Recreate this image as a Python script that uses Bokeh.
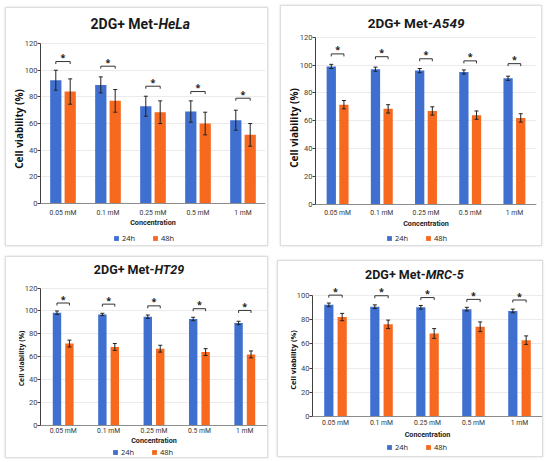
from bokeh.plotting import figure
from bokeh.models import (ColumnDataSource, Whisker, TeeHead, FixedTicker, Label,
                          Legend, LegendItem, Range1d)
from bokeh.layouts import row, column
from bokeh.embed import file_html
from bokeh.resources import INLINE
from bokeh.core.properties import value

# ---------------- data ----------------
categories = ["0.05 mM", "0.1 mM", "0.25 mM", "0.5 mM", "1 mM"]
series_names = ["24h", "48h"]

hela_24 = [92.5, 89, 73, 69, 62.5]
hela_24_err = [7.5, 6, 7.5, 8, 7.5]
hela_48 = [84, 77, 68.5, 60, 51.5]
hela_48_err = [9.5, 8.5, 8.5, 8.5, 8.5]
hela_sig = [106.5, 103, 88, 84, 79]

a549_24 = [99, 97, 96, 95, 90.5]
a549_24_err = [1.5, 1.5, 1.5, 1.5, 1.5]
a549_48 = [71.5, 68.5, 67, 64, 62]
a549_48_err = [3, 3, 3, 3, 3]
a549_sig = [108, 106, 104.5, 103, 101]

ht29_24 = [98.5, 97, 95, 93, 89.5]
ht29_24_err = [1.5, 1, 1.5, 1.5, 1.5]
ht29_48 = [71.5, 68.5, 67, 64, 62]
ht29_48_err = [3, 3, 3, 3, 3]
ht29_sig = [107, 106, 104.5, 102, 100.5]

mrc5_24 = [92, 90.5, 90, 88.5, 87]
mrc5_24_err = [1.5, 1.5, 1.5, 1.5, 1.5]
mrc5_48 = [82, 76, 68.5, 74, 63]
mrc5_48_err = [3, 3.5, 4, 4, 3.5]
mrc5_sig = [100, 99.5, 98, 96.5, 96]

BLUE = "#3f6fcf"
ORANGE = "#f7691f"
FONT = "Open Sans"
NARROW = "Roboto"


def panel(cell, v24, e24, v48, e48, sig, w, h, mb, y_start, y_end, y_max, title_y, split,
          bw, off, title_size, ylab_size, px_per_unit, leg_loc, tl_standoff, xl_standoff):
    p = figure(width=w, height=h, x_range=Range1d(0.5, 5.5), y_range=Range1d(y_start, y_end),
               output_backend="svg", toolbar_location=None,
               min_border_left=mb[0], min_border_right=mb[1],
               min_border_top=mb[2], min_border_bottom=mb[3])
    p.outline_line_color = None
    p.background_fill_color = "white"
    p.border_fill_color = "white"
    p.styles = {"border": "1px solid #dedede", "box-shadow": "0px 0px 2px #d6d6d6"}
    p.xgrid.grid_line_color = None
    p.ygrid.grid_line_color = "#ebebeb"

    xs = list(range(1, len(categories) + 1))
    x24 = [x - off for x in xs]
    x48 = [x + off for x in xs]

    r24 = p.vbar(x=x24, top=v24, width=bw, fill_color=BLUE, line_color=None)
    r48 = p.vbar(x=x48, top=v48, width=bw, fill_color=ORANGE, line_color=None)

    for xx, vv, ee in ((x24, v24, e24), (x48, v48, e48)):
        src = ColumnDataSource(dict(x=xx, up=[a + b for a, b in zip(vv, ee)],
                                    lo=[a - b for a, b in zip(vv, ee)]))
        wk = Whisker(source=src, base="x", upper="up", lower="lo", line_color="#222222",
                     line_width=1, level="overlay",
                     upper_head=TeeHead(size=4, line_color="#222222", line_width=1),
                     lower_head=TeeHead(size=4, line_color="#222222", line_width=1))
        p.add_layout(wk)

    # significance brackets
    d = 2.5 / px_per_unit
    p.segment(x0=x24, x1=x48, y0=sig, y1=sig, line_color="#333333", line_width=1)
    p.segment(x0=x24, x1=x24, y0=sig, y1=[s - d for s in sig], line_color="#333333", line_width=1)
    p.segment(x0=x48, x1=x48, y0=sig, y1=[s - d for s in sig], line_color="#333333", line_width=1)
    p.text(x=xs, y=sig, text=["*"] * len(xs), text_align="center", text_baseline="alphabetic",
           y_offset=-4, text_font=value(FONT), text_font_size="9px", text_font_style="bold",
           text_color="#222222")

    # title with italic cell line name
    p.add_layout(Label(x=split, y=title_y, text="2DG+ Met-", text_align="right",
                       text_baseline="middle", text_font=NARROW, text_font_size=title_size,
                       text_font_style="bold", text_color="#1a1a1a"))
    p.add_layout(Label(x=split, y=title_y, text=cell, text_align="left",
                       text_baseline="middle", text_font=NARROW, text_font_size=title_size,
                       text_font_style="bold italic", text_color="#1a1a1a"))

    # axes
    ya = p.yaxis[0]
    ya.bounds = (0, y_max)
    ya.ticker = FixedTicker(ticks=list(range(0, y_max + 1, 20)))
    ya.axis_label = "Cell viability (%)"
    ya.axis_label_text_font = FONT
    ya.axis_label_text_font_size = ylab_size
    ya.axis_label_text_font_style = "bold"
    ya.axis_label_text_color = "#111111"
    ya.axis_label_standoff = -4
    ya.major_label_text_font = NARROW
    ya.major_label_text_font_size = "7.5px"
    ya.major_label_text_color = "#404040"
    ya.major_label_standoff = 0
    ya.axis_line_color = "#404040"
    ya.major_tick_line_color = "#404040"
    ya.major_tick_out = 3
    ya.major_tick_in = 0
    ya.minor_tick_line_color = None

    xa = p.xaxis[0]
    xa.fixed_location = 0
    xa.ticker = FixedTicker(ticks=xs)
    xa.major_label_overrides = {x: c for x, c in zip(xs, categories)}
    xa.axis_label = "Concentration"
    xa.axis_label_text_font = NARROW
    xa.axis_label_text_font_size = "7.2px"
    xa.axis_label_text_font_style = "bold"
    xa.axis_label_text_color = "#222222"
    xa.axis_label_standoff = xl_standoff
    xa.major_label_text_font = NARROW
    xa.major_label_text_font_size = "6.8px"
    xa.major_label_text_color = "#333333"
    xa.major_label_standoff = tl_standoff
    xa.major_tick_out = 0
    xa.major_tick_in = 0
    xa.axis_line_color = "#8c8c8c"
    xa.major_tick_line_color = None
    xa.minor_tick_line_color = None

    leg = Legend(items=[LegendItem(label=series_names[0], renderers=[r24]),
                        LegendItem(label=series_names[1], renderers=[r48])],
                 orientation="horizontal", location=leg_loc,
                 glyph_width=6, glyph_height=6, label_height=8, label_standoff=3,
                 spacing=10, padding=0, margin=0, border_line_color=None,
                 background_fill_alpha=0,
                 label_text_font=FONT, label_text_font_size="7.5px", label_text_color="#222222")
    p.add_layout(leg)
    return p


p1 = panel("HeLa", hela_24, hela_24_err, hela_48, hela_48_err, hela_sig,
           263, 239, (34, 4, 4, 2), -31.5, 143.3, 120, 135, 3.12, 0.25, 0.16, "14px", "10px",
           1.333, (73, 2), 5, -2)
p1.margin = (2, 0, 0, 0)
p2 = panel("A549", a549_24, a549_24_err, a549_48, a549_48_err, a549_sig,
           262, 241, (34, 7, 4, 2), -29.7, 139.2, 120, 130, 3.16, 0.21, 0.143, "13.5px", "10px",
           1.392, (71, 2), 5, -2)
p3 = panel("HT29", ht29_24, ht29_24_err, ht29_48, ht29_48_err, ht29_sig,
           263, 202, (34, 2, 2, 2), -28.3, 145.1, 120, 136.6, 3.01, 0.185, 0.137, "12.5px", "7px",
           1.142, (72, 0), 2, -3)
p4 = panel("MRC-5", mrc5_24, mrc5_24_err, mrc5_48, mrc5_48_err, mrc5_sig,
           266, 197, (34, 2, 2, 2), -32.6, 126, 100, 117.2, 2.96, 0.2, 0.145, "12.5px", "7.5px",
           1.217, (74, 4), 2, 0)
p4.margin = (4, 0, 0, 0)

layout = column(row(p1, p2, spacing=12), row(p3, p4, spacing=9), spacing=10,
                margin=(5, 0, 0, 5))
open("out.html", "w").write(file_html(layout, INLINE))
